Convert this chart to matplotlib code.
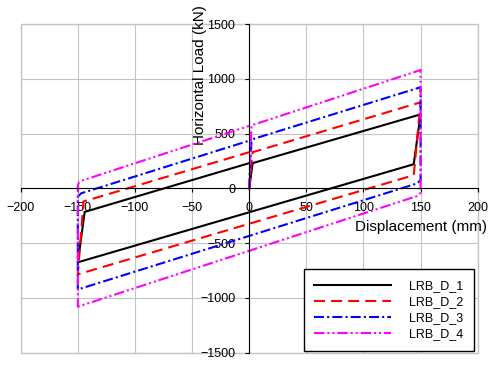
import matplotlib
matplotlib.use("Agg")
import matplotlib.pyplot as plt
from matplotlib.patches import Rectangle

plt.rcParams['font.family'] = ['Liberation Sans', 'DejaVu Sans']

# Hysteresis loop vertices (displacement mm, load kN)
d1_x = [0, 3, 150, 144, -150, -144, 0]
d1_y = [0, 230, 675, 220, -675, -215, 230]

d2_x = [0, 3, 150, 144, -150, -145, 0]
d2_y = [0, 330, 785, 120, -785, -120, 330]

d3_x = [0, 2, 4, 150, 150, 147, -150, -150, -147, 0]
d3_y = [0, 430, 452, 923, 75, 45, -923, -75, -45, 435]

d4_x = [0, 2, 150, 150, 147, -150, -150, -149, -146, 0]
d4_y = [0, 575, 1080, -40, -70, -1080, 30, 55, 72, 570]

labels = ["LRB_D_1", "LRB_D_2", "LRB_D_3", "LRB_D_4"]
x_ticks = [-200, -150, -100, -50, 0, 50, 100, 150, 200]
y_ticks = [-1500, -1000, -500, 0, 500, 1000, 1500]

fig = plt.figure(figsize=(5, 3.7), dpi=100)
ax = fig.add_axes([0.0414, 0.0468, 0.914, 0.8883])

ax.set_xlim(-200, 200)
ax.set_ylim(-1500, 1500)
ax.set_xticks(x_ticks)
ax.set_yticks(y_ticks)
ax.grid(True, color='#c4c4c4', lw=0.8)
ax.set_axisbelow(True)

for s in ['top', 'right']:
    ax.spines[s].set_visible(False)
ax.spines['left'].set_position(('data', 0))
ax.spines['bottom'].set_position(('data', 0))
ax.spines['left'].set_linewidth(0.8)
ax.spines['bottom'].set_linewidth(0.8)
ax.add_patch(Rectangle((0, 0), 1, 1, transform=ax.transAxes, fill=False,
                       ec='#c4c4c4', lw=1.0, clip_on=False, zorder=0))

ax.tick_params(axis='both', direction='out', length=3, width=0.8,
               labelsize=9, colors='black')
ax.tick_params(axis='x', pad=7)
ax.tick_params(axis='y', pad=7)

lw = 1.5
ax.plot(d1_x, d1_y, color='black', lw=lw, label=labels[0])
ax.plot(d2_x, d2_y, color='#ff0000', lw=lw, linestyle=(0, (5.3, 2.9)), label=labels[1])
ax.plot(d3_x, d3_y, color='#0000ff', lw=lw, linestyle=(0, (4.8, 1.5, 1, 1.5)), label=labels[2])
ax.plot(d4_x, d4_y, color='#ff00ff', lw=lw, linestyle=(0, (5, 1.4, 1, 1.4, 1, 1.4)), label=labels[3])

ax.set_xlabel("Displacement (mm)", fontsize=11)
ax.xaxis.set_label_coords(0.877, 0.381)
ax.xaxis.label.set_va('center')
ax.set_ylabel("Horizontal Load (kN)", fontsize=11)
ax.yaxis.set_label_coords(0.392, 0.845)
ax.yaxis.label.set_va('center')

leg = ax.legend(loc='lower right', bbox_to_anchor=(0.9486, 0.0522),
                bbox_transform=fig.transFigure, borderaxespad=0,
                fontsize=9, handlelength=6.1, handletextpad=1.5,
                labelspacing=0.32, borderpad=0.85, fancybox=False,
                framealpha=1, edgecolor='black')
leg.get_frame().set_linewidth(1.0)

fig.savefig("out.png", dpi=100)
